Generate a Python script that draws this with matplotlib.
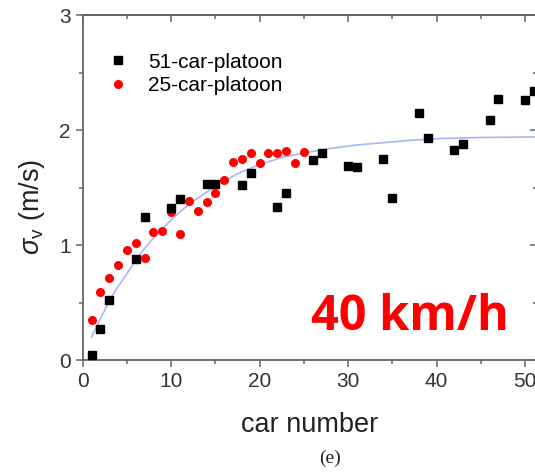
import matplotlib
matplotlib.use("Agg")
import matplotlib.pyplot as plt
from matplotlib.ticker import MultipleLocator

plt.rcParams['font.family'] = ['Liberation Sans', 'DejaVu Sans']
plt.rcParams['mathtext.fontset'] = 'custom'
plt.rcParams['mathtext.rm'] = 'Liberation Sans'
plt.rcParams['mathtext.it'] = 'Liberation Sans:italic'

# 51-car platoon
car51 = [1, 2, 3, 6, 7, 10, 11, 14, 15, 18, 19, 22, 23, 26, 27, 30, 31, 34, 35,
         38, 39, 42, 43, 46, 47, 50, 51]
sig51 = [0.04, 0.27, 0.52, 0.88, 1.24, 1.32, 1.40, 1.53, 1.53, 1.52, 1.63, 1.33,
         1.45, 1.74, 1.80, 1.69, 1.68, 1.745, 1.41, 2.145, 1.93, 1.83, 1.88,
         2.09, 2.27, 2.26, 2.34]

# 25-car platoon
car25 = list(range(1, 26))
sig25 = [0.35, 0.59, 0.71, 0.83, 0.96, 1.02, 0.89, 1.11, 1.12, 1.29, 1.10, 1.385,
         1.30, 1.37, 1.455, 1.565, 1.72, 1.75, 1.80, 1.71, 1.80, 1.80, 1.82,
         1.71, 1.81]

# fitted curve
fit_x = [1, 2, 3, 4, 5, 6, 7, 8, 9.5, 11, 12.5, 14, 15.5, 17.5, 20, 22.5, 25,
         28, 31, 34, 37, 40, 45, 52]
fit_y = [0.20, 0.36, 0.51, 0.64, 0.75, 0.87, 0.97, 1.06, 1.18, 1.29, 1.38, 1.46,
         1.53, 1.62, 1.70, 1.76, 1.80, 1.84, 1.87, 1.89, 1.91, 1.925, 1.935, 1.94]

fig = plt.figure(figsize=(5.35, 4.75), dpi=100)
ax = fig.add_axes([0.1546, 0.2421, 0.849, 0.7263])

ax.plot(fit_x, fit_y, color='#a8b8f4', lw=1.2, zorder=1)
ax.plot(car51, sig51, 's', color='black', ms=5.6, label='51-car-platoon', zorder=3)
ax.plot(car25, sig25, 'o', color='#ff0000', ms=6.5, mec='none',
        label='25-car-platoon', zorder=2)

ax.set_xlim(0, 51.35)
ax.set_ylim(0, 3)

gray = '#666666'
for s in ax.spines.values():
    s.set_color(gray)
    s.set_linewidth(1.3)

def set_ticks(axis):
    axis.set_major_locator(MultipleLocator(10 if axis is ax.xaxis else 1))
    axis.set_minor_locator(MultipleLocator(5 if axis is ax.xaxis else 0.5))

set_ticks(ax.xaxis)
set_ticks(ax.yaxis)
ax.tick_params(which='both', colors=gray, labelcolor='#333333', width=1.1,
               labelsize=15, direction='out')
ax.tick_params(which='major', length=5)
ax.tick_params(which='minor', length=3)

# top and right ticks point inward
top = ax.secondary_xaxis('top')
top.xaxis.set_major_locator(MultipleLocator(10))
top.xaxis.set_minor_locator(MultipleLocator(5))
right = ax.secondary_yaxis('right')
right.yaxis.set_major_locator(MultipleLocator(1))
right.yaxis.set_minor_locator(MultipleLocator(0.5))
for sec in (top, right):
    sec.tick_params(which='both', direction='in', colors=gray, width=1.1,
                    labeltop=False, labelright=False)
    sec.tick_params(which='major', length=5)
    sec.tick_params(which='minor', length=3)
    for s in sec.spines.values():
        s.set_color(gray)
        s.set_linewidth(1.3)

ax.set_xlabel('car number', fontsize=19.5, color='#222222', labelpad=15)
ax.set_ylabel(r'$\sigma_{\mathrm{v}}$ (m/s)', fontsize=19.5, color='#222222')
ax.yaxis.set_label_coords(-0.079, 0.443)

ax.legend(loc='upper left', bbox_to_anchor=(0.031, 0.915), frameon=False,
          fontsize=15, handletextpad=0.85, labelspacing=0.2, borderaxespad=0,
          handlelength=1.2)

ax.text(0.503, 0.087, '40 km/h', transform=ax.transAxes, color='#ff0000',
        fontsize=35, fontweight='bold', family=['Open Sans', 'DejaVu Sans'],
        va='baseline', ha='left')

fig.text(0.617, 0.025, '(e)', fontsize=14, family=['Liberation Serif', 'DejaVu Serif'],
         color='#222222', ha='center')

fig.savefig('out.png', dpi=100)
